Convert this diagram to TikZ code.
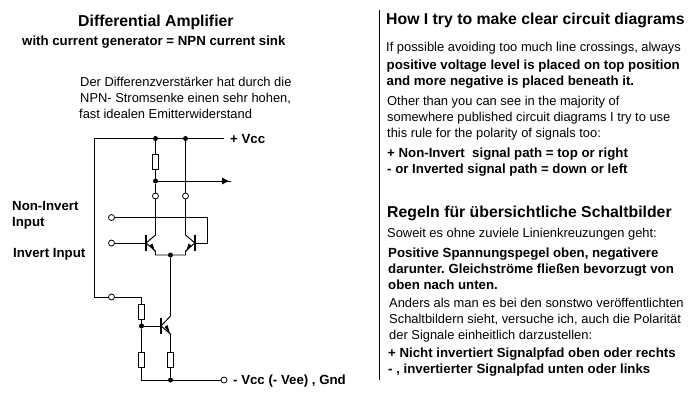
\documentclass[tikz,border=0pt]{standalone}
\usepackage{fontspec}
\setmainfont{Liberation Sans}
\tikzset{
 wire/.style={draw=black,line width=0.95pt},
 res/.style={draw=black,line width=0.95pt,fill=white,minimum width=6.5pt,minimum height=15pt,inner sep=0pt,outer sep=0pt},
 dotj/.style={circle,fill=black,minimum size=5pt,inner sep=0pt,outer sep=0pt},
 term/.style={circle,draw=black,line width=0.8pt,fill=white,minimum size=6pt,inner sep=0pt,outer sep=0pt},
 bar/.style={line width=1.7pt},
 tx/.style={anchor=base west,inner sep=0pt,font=\fontsize{12.9pt}{15pt}\selectfont\frenchspacing},
 bx/.style={anchor=base west,inner sep=0pt,font=\fontsize{13.25pt}{15pt}\selectfont\bfseries\frenchspacing},
 hd/.style={anchor=base west,inner sep=0pt,font=\fontsize{15.8pt}{18pt}\selectfont\bfseries}
}
\begin{document}
\begin{tikzpicture}[x=1pt,y=-1pt]
\useasboundingbox (0,0) rectangle (700,400);
\fill[white] (0,0) rectangle (700,400);
% nodes
\node[dotj] (j1) at (155.5,138.5) {};
\node[dotj] (j2) at (185.5,138.5) {};
\node[dotj] (j3) at (155.5,181) {};
\node[dotj] (j4) at (170.5,255) {};
\node[dotj] (j5) at (141.5,326) {};
\node[dotj] (j6) at (170.5,380) {};
\node[term] (t1) at (155.5,196) {};
\node[term] (t2) at (185.5,196) {};
\node[term] (t3) at (111.5,217.5) {};
\node[term] (t4) at (111.5,243) {};
\node[term] (t5) at (111.5,297) {};
\node[term] (t6) at (224,380) {};
\coordinate (vccl) at (94,138.5);
\coordinate (vccr) at (224,138.5);
\coordinate (out) at (231,181);
% wires
\draw[wire] (t5) -- (94,297) -- (vccl) -- (vccr);
\draw[wire] (j1) -- (j3);
\draw[wire] (j3) -- (t1);
\draw[wire] (j2) -- (t2);
\draw[wire] (j3) -- (out);
\fill (228.5,181) -- (222,177.5) -- (222,184.5) -- cycle;
\draw[wire] (t1) -- (155.5,235) -- (146,243) (146,243) -- (155.5,251) -- (155.5,255) -- (j4);
\draw[wire] (t2) -- (185.5,235) -- (195,243);
\draw[wire] (195,243) -- (185.5,251) -- (185.5,255) -- (j4);
\draw[wire] (t3) -- (207.5,217.5) -- (207.5,243) -- (195,243);
\draw[wire] (t4) -- (146,243);
\draw[wire] (t5) -- (141.5,297) -- (j5);
\draw[wire] (j5) -- (141.5,380) -- (j6);
\draw[wire] (j5) -- (161,326);
\draw[wire] (j4) -- (170.5,316) -- (161,326);
\draw[wire] (161,326) -- (170.5,334) -- (j6);
\draw[wire] (j6) -- (t6);
% components
\node[res] (r1) at (155.5,161.8) {};
\node[res] (r2) at (141.5,312) {};
\node[res] (r3) at (141.5,359.5) {};
\node[res] (r4) at (170.5,359.5) {};
\draw[bar] (146,235) -- (146,251);
\draw[bar] (195,235) -- (195,251);
\draw[bar] (161,318) -- (161,334);
\fill (155,252) -- (149.5,245.5) -- (152.5,243.5) -- cycle;
\fill (186,252) -- (191.5,245.5) -- (188.5,243.5) -- cycle;
\fill (170,333.5) -- (164.5,327) -- (167.5,325) -- cycle;
% left text
\node[hd] (a1) at (78,26) {Differential Amplifier};
\node[bx] (a2) at (22,45) {with current generator = NPN current sink};
\node[tx] (a3) at (80,86.5) {Der Differenzverstärker hat durch die};
\node[tx] (a4) at (80,102.5) {NPN- Stromsenke einen sehr hohen,};
\node[tx] (a5) at (79,118) {fast idealen Emitterwiderstand};
\node[bx] (a6) at (230,143) {+ Vcc};
\node[bx] (a7) at (12,210) {Non-Invert};
\node[bx] (a8) at (12,226) {Input};
\node[bx] (a9) at (13,257) {Invert Input};
\node[bx] (a10) at (233,384) {- Vcc (- Vee) , Gnd};
% divider
\coordinate (d1) at (379.5,10);
\coordinate (d2) at (379.5,380);
\draw[wire] (d1) -- (d2);
% right text
\node[hd] (b1) at (386,24) {How I try to make clear circuit diagrams};
\node[tx] (b2) at (386,51.5) {If possible avoiding too much line crossings, always};
\node[bx] (b3) at (386.5,69) {positive voltage level is placed on top position};
\node[bx] (b4) at (386.5,85) {and more negative is placed beneath it.};
\node[tx] (b5) at (387,105) {Other than you can see in the majority of};
\node[tx] (b6) at (387,121) {somewhere published circuit diagrams I try to use};
\node[tx] (b7) at (387,137) {this rule for the polarity of signals too:};
\node[bx] (b8) at (387,157) {+ Non-Invert~ signal path = top or right};
\node[bx] (b9) at (387,173) {- or Inverted signal path = down or left};
\node[hd] (b10) at (387,217) {Regeln für übersichtliche Schaltbilder};
\node[tx] (b11) at (387,237) {Soweit es ohne zuviele Linienkreuzungen geht:};
\node[bx] (b12) at (388,257) {Positive Spannungspegel oben, negativere};
\node[bx] (b13) at (388,273) {darunter. Gleichströme fließen bevorzugt von};
\node[bx] (b14) at (388,289) {oben nach unten.};
\node[tx] (b15) at (389,307) {Anders als man es bei den sonstwo veröffentlichten};
\node[tx] (b16) at (389,323) {Schaltbildern sieht, versuche ich, auch die Polarität};
\node[tx] (b17) at (389,339) {der Signale einheitlich darzustellen:};
\node[bx] (b18) at (388,357) {+ Nicht invertiert Signalpfad oben oder rechts};
\node[bx] (b19) at (388,373) {- , invertierter Signalpfad unten oder links};
\end{tikzpicture}
\end{document}
